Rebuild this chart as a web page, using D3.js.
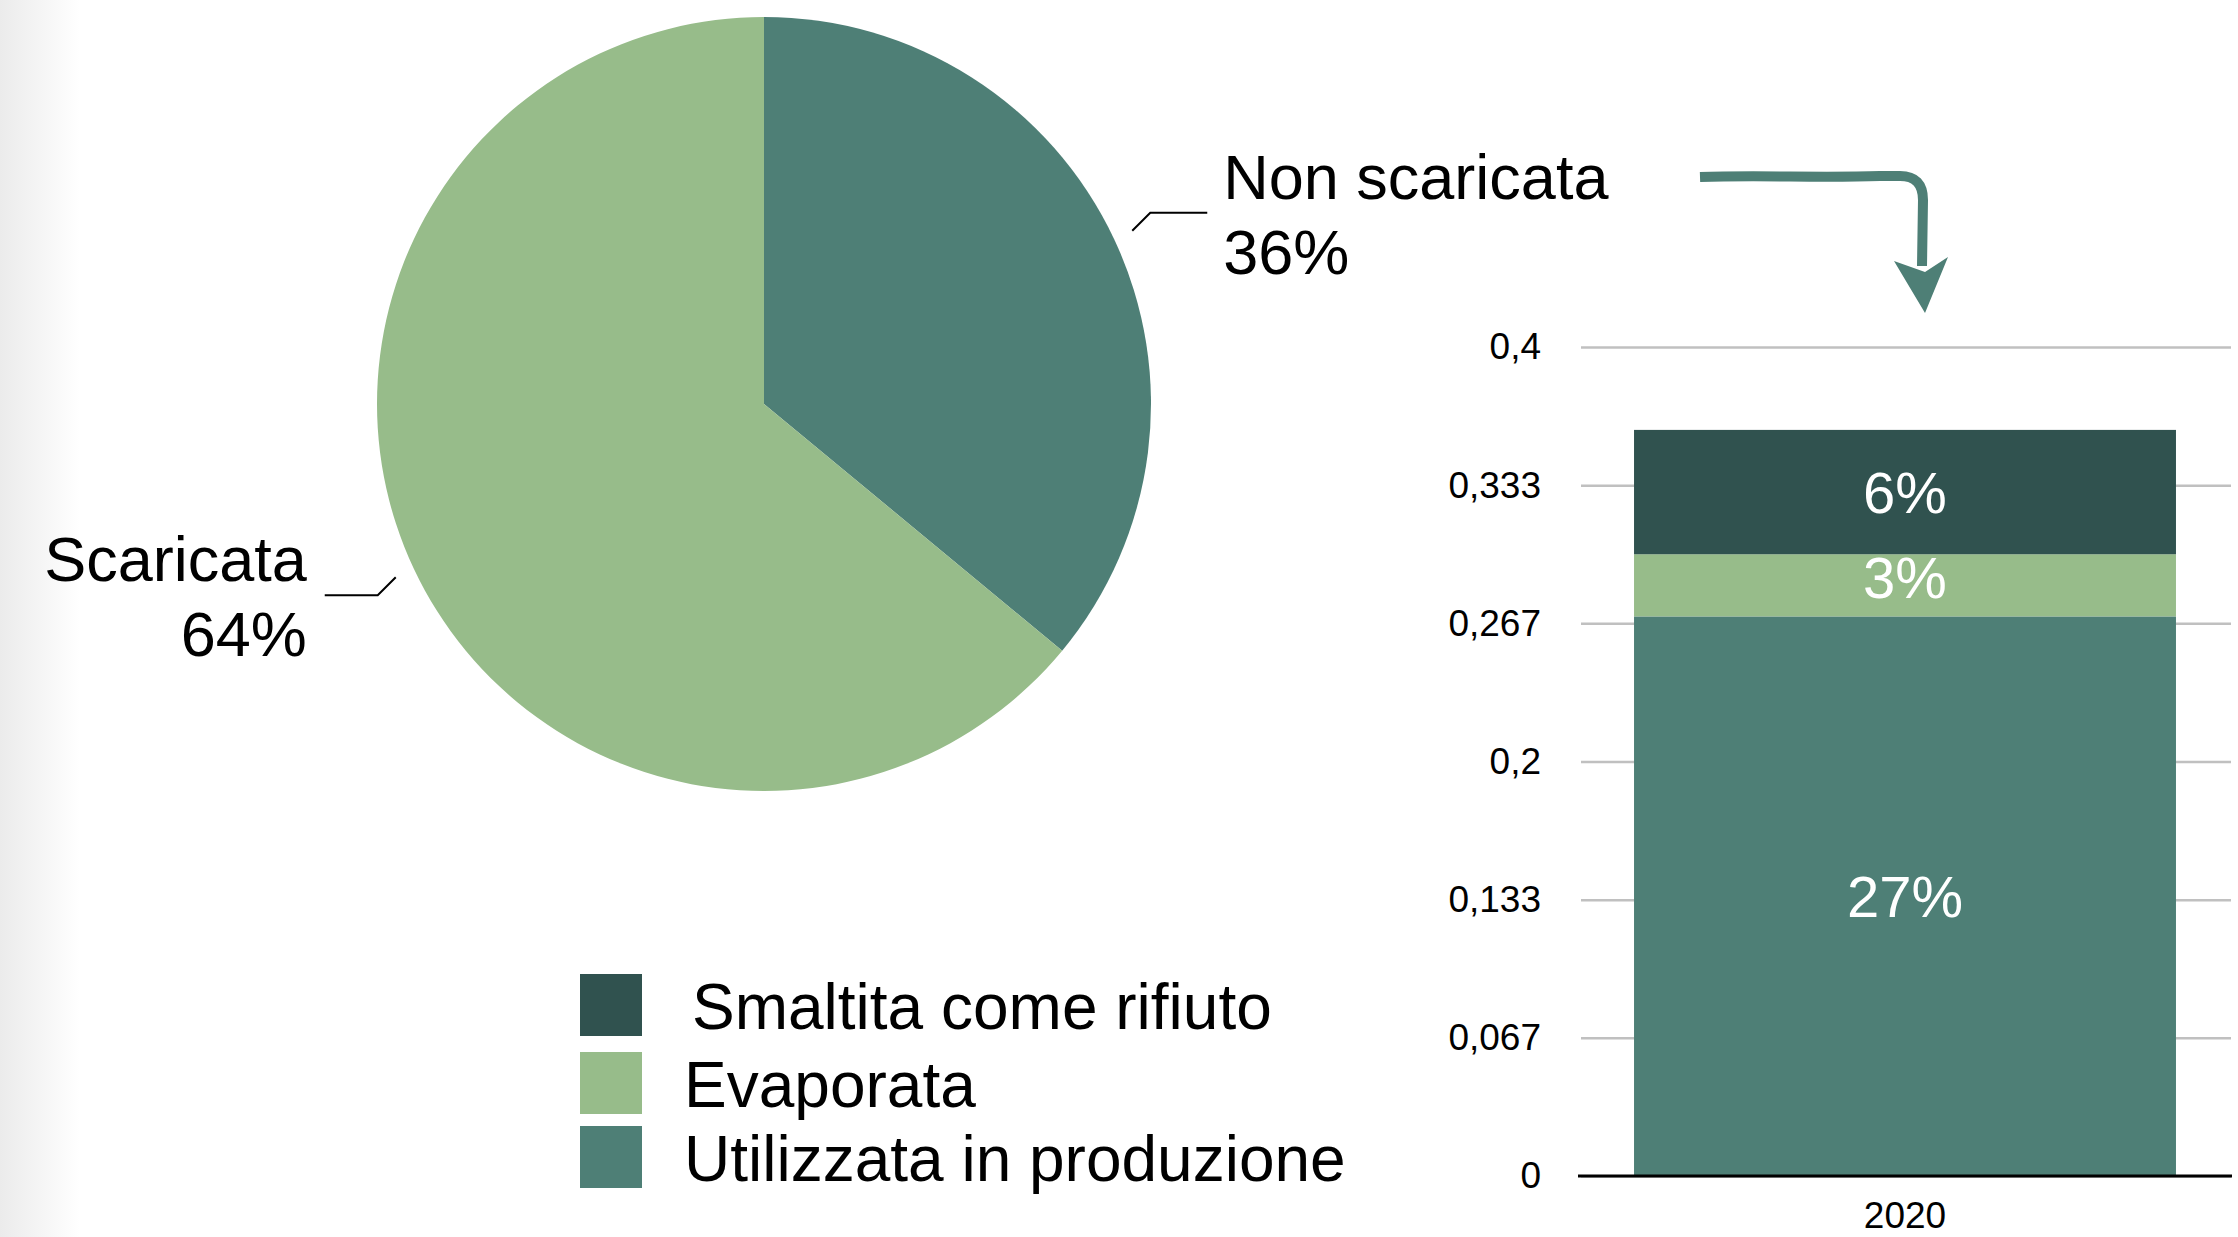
<!DOCTYPE html>
<html>
<head>
<meta charset="utf-8">
<script src="https://cdn.jsdelivr.net/npm/d3@7"></script>
<style>
  html, body { margin:0; padding:0; background:#fff; }
  svg { display:block; font-family:"Liberation Sans", Arial, Helvetica, sans-serif; }
</style>
</head>
<body>
<svg id="chart"></svg>
<script>
// pie data
var pieNames = ["Non scaricata", "Scaricata"];
var pieValues = [36, 64];
var pieColors = ["#4e7f76", "#97bc8a"];

// stacked bar data (bottom to top)
var barYears = ["2020"];
var barSeries = ["Utilizzata in produzione", "Evaporata", "Smaltita come rifiuto"];
var barValues = [0.27, 0.03, 0.06];
var barColors = ["#4e7f76", "#97bc8a", "#30524f"];
var barLabels = ["27%", "3%", "6%"];

// y ticks
var yTicks = [0, 1/15, 2/15, 3/15, 4/15, 5/15, 6/15];

var screen = { width:2238, height:1237 };

var svg = d3.select("#chart")
            .attr("width", screen.width)
            .attr("height", screen.height);

// soft grey shade on the left edge
var defs = svg.append("defs");
var grad = defs.append("linearGradient").attr("id", "edge")
               .attr("x1", "0").attr("x2", "1").attr("y1", "0").attr("y2", "0");
grad.append("stop").attr("offset", "0").attr("stop-color", "#ebebeb");
grad.append("stop").attr("offset", "1").attr("stop-color", "#ffffff");
svg.append("rect").attr("x", 0).attr("y", 0).attr("width", 80).attr("height", screen.height)
   .attr("fill", "url(#edge)");

//pie
var pieCenter = { x:764, y:404 };
var radius = 387;

var pie = d3.pie().sort(null).value(function(d) { return d.value; });
var pieData = pie(pieNames.map(function(n, i) { return { name:n, value:pieValues[i], color:pieColors[i] }; }));

var arc = d3.arc().innerRadius(0).outerRadius(radius);

var pieG = svg.append("g")
              .attr("transform", "translate(" + pieCenter.x + "," + pieCenter.y + ")");

pieG.selectAll("path")
    .data(pieData)
    .enter()
    .append("path")
    .attr("d", arc)
    .attr("fill", function(d) { return d.data.color; });

// pie labels with leader lines
pieData.forEach(function(d) {
  var mid = (d.startAngle + d.endAngle) / 2;
  var r0 = radius + 20;
  var x0 = Math.sin(mid) * r0, y0 = -Math.cos(mid) * r0;
  var right = x0 > 0;
  var x1 = x0 + (right ? 18 : -18);
  var y1 = y0 + (y0 < 0 ? -18 : 18);
  var x2 = x1 + (right ? 57 : -53);
  pieG.append("polyline")
      .attr("points", [[x0, y0], [x1, y1], [x2, y1]].map(function(p) { return p.join(","); }).join(" "))
      .attr("fill", "none")
      .attr("stroke", "#000")
      .attr("stroke-width", 2);
  var tx = x2 + (right ? 16 : -18);
  var t = pieG.append("text")
              .attr("text-anchor", right ? "start" : "end")
              .attr("font-size", 63)
              .attr("fill", "#000");
  t.append("tspan").attr("x", tx).attr("y", y1 - 14).text(d.data.name);
  t.append("tspan").attr("x", tx).attr("y", y1 + 61).text(d.data.value + "%");
});

// legend
var legendY = [974, 1052, 1126];
var legendOrder = [2, 1, 0];
var legend = svg.append("g").classed("legend", true);
var legendLines = legend.selectAll("g")
                        .data(legendOrder)
                        .enter()
                        .append("g")
                        .attr("transform", function(d, i) { return "translate(580," + legendY[i] + ")"; });
legendLines.append("rect")
           .attr("x", 0).attr("y", 0)
           .attr("width", 62).attr("height", 62)
           .attr("fill", function(d) { return barColors[d]; });
legendLines.append("text")
           .attr("x", function(d, i) { return i == 0 ? 112 : 104; })
           .attr("y", 55)
           .attr("font-size", 64)
           .attr("fill", "#000")
           .text(function(d) { return barSeries[d]; });

// stacked bar
var itFormat = d3.formatLocale({ decimal:",", thousands:".", grouping:[3], currency:["", "€"] }).format(".3~f");

var yScale = d3.scaleLinear().domain([0, 0.4]).range([1176, 347]);
var xScale = d3.scaleBand().domain(barYears).range([1578, 2232]).padding(0.0937);

var yAxis = d3.axisLeft(yScale)
              .tickValues(yTicks)
              .tickFormat(itFormat)
              .tickSizeInner(-650)
              .tickSizeOuter(0)
              .tickPadding(40);

var yG = svg.append("g").attr("transform", "translate(1581,0)").call(yAxis);
yG.select(".domain").remove();
yG.selectAll(".tick line").attr("stroke", "#c0c0c0").attr("stroke-width", 2.5);
yG.selectAll(".tick text").attr("font-size", 37).attr("fill", "#000")
  .attr("font-family", "'Liberation Sans', Arial, sans-serif");

var stackRow = {};
barSeries.forEach(function(s, i) { stackRow[s] = barValues[i]; });
var stacked = d3.stack().keys(barSeries)([stackRow]);

var bars = svg.append("g");
bars.selectAll("rect")
    .data(stacked)
    .enter()
    .append("rect")
    .attr("x", xScale("2020"))
    .attr("width", xScale.bandwidth())
    .attr("y", function(d) { return yScale(d[0][1]); })
    .attr("height", function(d) { return yScale(d[0][0]) - yScale(d[0][1]); })
    .attr("fill", function(d, i) { return barColors[i]; });

// small segments get their label nudged up a bit, like the original
bars.selectAll("text")
    .data(stacked)
    .enter()
    .append("text")
    .attr("x", xScale("2020") + xScale.bandwidth() / 2)
    .attr("y", function(d) {
      var h = yScale(d[0][0]) - yScale(d[0][1]);
      return (yScale(d[0][0]) + yScale(d[0][1])) / 2 + (h < 80 ? 13 : 21);
    })
    .attr("text-anchor", "middle")
    .attr("font-size", 58)
    .attr("fill", "#fff")
    .text(function(d, i) { return barLabels[i]; });

// x axis
var xAxis = d3.axisBottom(xScale).tickSize(0).tickPadding(26);
var xG = svg.append("g").attr("transform", "translate(0,1176)").call(xAxis);
xG.select(".domain").attr("d", "M1578,0H2232").attr("stroke", "#000").attr("stroke-width", 3);
xG.selectAll(".tick text").attr("font-size", 37).attr("fill", "#000")
  .attr("font-family", "'Liberation Sans', Arial, sans-serif");

// hand drawn arrow
svg.append("path")
   .attr("d", "M1700,177 C1760,175 1820,178 1880,176 L1900,176 Q1923,176 1923,200 L1922,266")
   .attr("fill", "none")
   .attr("stroke", "#4e7f76")
   .attr("stroke-width", 10)
   .attr("stroke-linecap", "butt");
svg.append("path")
   .attr("d", "M1894,261 L1925,272 L1948,257 L1925,313 Z")
   .attr("fill", "#4e7f76");
</script>
</body>
</html>
